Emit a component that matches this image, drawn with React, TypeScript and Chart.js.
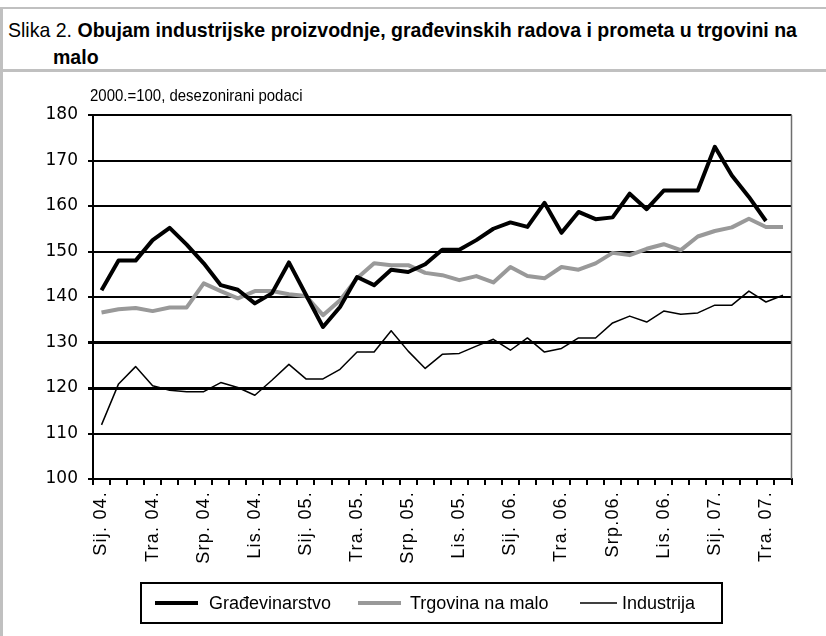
import React, { useEffect, useRef } from "react";
import { Chart, registerables } from "chart.js";

Chart.register(...registerables);

const months = ["Sij.", "Velj.", "Ožu.", "Tra.", "Svi.", "Lip.", "Srp.", "Kol.", "Ruj.", "Lis.", "Stu.", "Pro."];
const years = ["04.", "05.", "06.", "07."];
const categories: string[] = [];
for (let y = 0; y < years.length; y++) {
  for (let m = 0; m < 12; m++) {
    if (categories.length < 41) categories.push(months[m] + " " + years[y]);
  }
}
// visible tick labels (every third month)
const tickLabels: Record<number, string> = {
  0: "Sij. 04.", 3: "Tra. 04.", 6: "Srp. 04.", 9: "Lis. 04.",
  12: "Sij. 05.", 15: "Tra. 05.", 18: "Srp. 05.", 21: "Lis. 05.",
  24: "Sij. 06.", 27: "Tra. 06.", 30: "Srp.06.", 33: "Lis. 06.",
  36: "Sij. 07.", 39: "Tra. 07.",
};

const gradevinarstvo: (number | null)[] = [
  141.5, 148, 148, 152.5, 155.2, 151.5, 147.4, 142.6, 141.6, 138.6, 140.8, 147.6,
  140.5, 133.4, 137.8, 144.4, 142.6, 146, 145.5, 147.2, 150.4, 150.4, 152.5, 155,
  156.4, 155.4, 160.7, 154.1, 158.7, 157.1, 157.5, 162.7, 159.3, 163.4, 163.4, 163.4,
  173, 166.7, 162, 156.7, null,
];
const trgovina: number[] = [
  136.6, 137.3, 137.6, 136.9, 137.7, 137.7, 143, 141.3, 139.7, 141.3, 141.3, 140.6,
  140.2, 136, 139.3, 144.1, 147.4, 147, 147, 145.3, 144.8, 143.7, 144.6, 143.2,
  146.6, 144.6, 144.1, 146.6, 146, 147.4, 149.7, 149.2, 150.6, 151.6, 150.3, 153.3,
  154.5, 155.3, 157.2, 155.4, 155.4,
];
const industrija: number[] = [
  111.9, 120.9, 124.7, 120.5, 119.5, 119.2, 119.2, 121.2, 120.1, 118.4, 121.7, 125.2,
  122, 122, 124.1, 127.9, 127.9, 132.6, 128.1, 124.3, 127.4, 127.6, 129.2, 130.7,
  128.3, 131, 127.9, 128.7, 131, 131, 134.3, 135.8, 134.5, 136.9, 136.2, 136.5,
  138.2, 138.2, 141.3, 138.9, 140.4,
];

const yTicks = [100, 110, 120, 130, 140, 150, 160, 170, 180];
const subtitle = "2000.=100, desezonirani podaci";

const GREY = "#999999";

const framePlugin = {
  id: "framePlugin",
  beforeDraw(chart: any) {
    const xs = chart.scales.x;
    if (xs && !xs.__wrapped) {
      const orig = xs.drawLabels.bind(xs);
      xs.drawLabels = (area: any) => {
        const c = chart.ctx;
        const prev = c.letterSpacing;
        c.letterSpacing = "1.2px";
        orig(area);
        c.letterSpacing = prev || "0px";
      };
      xs.__wrapped = true;
    }
  },
  afterDraw(chart: any) {
    const { ctx, chartArea } = chart;
    ctx.save();
    // right border of plot area
    ctx.strokeStyle = "#6e6e6e";
    ctx.lineWidth = 1.5;
    ctx.beginPath();
    ctx.moveTo(chartArea.right, chartArea.top);
    ctx.lineTo(chartArea.right, chartArea.bottom);
    ctx.stroke();
    // subtitle
    ctx.save();
    ctx.translate(87, 24);
    ctx.scale(0.88, 1);
    ctx.fillStyle = "#000";
    ctx.font = "17px 'Liberation Sans', Arial, sans-serif";
    ctx.textAlign = "left";
    ctx.textBaseline = "middle";
    ctx.fillText(subtitle, 0, 0);
    ctx.restore();
    // legend
    const bx = 138, by = 511, bw = 581, bh = 40;
    ctx.lineWidth = 2;
    ctx.strokeStyle = "#000";
    ctx.strokeRect(bx, by, bw, bh);
    const items = [
      { x: 152, len: 43, tx: 206 },
      { x: 355, len: 43, tx: 407 },
      { x: 577, len: 37, tx: 619 },
    ];
    ctx.font = "18px 'Liberation Sans', Arial, sans-serif";
    ctx.textAlign = "left";
    ctx.textBaseline = "middle";
    chart.data.datasets.forEach((ds: any, i: number) => {
      const it = items[i];
      const cy = by + bh / 2;
      ctx.strokeStyle = ds.borderColor;
      ctx.lineWidth = ds.borderWidth;
      ctx.beginPath();
      ctx.moveTo(it.x, cy);
      ctx.lineTo(it.x + it.len, cy);
      ctx.stroke();
      ctx.fillStyle = "#000";
      ctx.fillText(ds.label, it.tx, cy + 1);
    });
    ctx.restore();
  },
};

function ChartView() {
  const ref = useRef<HTMLCanvasElement | null>(null);
  useEffect(() => {
    if (!ref.current) return;
    const chart = new Chart(ref.current, {
      type: "line",
      data: {
        labels: categories,
        datasets: [
          { label: "Građevinarstvo", data: gradevinarstvo, borderColor: "#000000", borderWidth: 4, pointRadius: 0, tension: 0, borderJoinStyle: "round", spanGaps: false },
          { label: "Trgovina na malo", data: trgovina, borderColor: GREY, borderWidth: 4, pointRadius: 0, tension: 0, borderJoinStyle: "round" },
          { label: "Industrija", data: industrija, borderColor: "#000000", borderWidth: 1.5, pointRadius: 0, tension: 0, borderJoinStyle: "round" },
        ],
      },
      options: {
        animation: false,
        responsive: false,
        maintainAspectRatio: false,
        layout: { padding: { top: 43, right: 34.5, left: 0, bottom: 0 } },
        plugins: { legend: { display: false }, tooltip: { enabled: false }, title: { display: false } },
        scales: {
          x: {
            offset: true,
            grid: { display: true, offset: true, drawOnChartArea: false, drawTicks: true, tickLength: 6, color: "#000", lineWidth: 2 },
            border: { display: true, color: "#000", width: 2 },
            ticks: {
              autoSkip: false,
              maxRotation: 90,
              minRotation: 90,
              padding: 6,
              color: "#000",
              font: { family: "'Liberation Sans', Arial, sans-serif", size: 18 },
              callback: (_v: any, idx: number) => tickLabels[idx] ?? "",
            },
            afterFit: (s: any) => { s.height = 157; },
          },
          y: {
            min: 100,
            max: 180,
            afterBuildTicks: (s: any) => { s.ticks = yTicks.map((v) => ({ value: v })); },
            grid: {
              color: "#000",
              lineWidth: (c: any) => (c.tick && (c.tick.value === 120 || c.tick.value === 130) ? 3 : 2),
              drawTicks: true,
              tickLength: 5,
            },
            border: { display: true, color: "#000", width: 2 },
            ticks: {
              padding: 10,
              color: "#000",
              font: { family: "'DejaVu Sans', sans-serif", size: 17 },
            },
            afterFit: (s: any) => { s.width = 90; },
          },
        },
      },
      plugins: [framePlugin],
    });
    return () => chart.destroy();
  }, []);
  return <canvas ref={ref} width={823} height={564} style={{ position: "absolute", left: 3, top: 72, width: 823, height: 564 }} />;
}

export default function App() {
  const titleFont = "'Liberation Sans', Arial, sans-serif";
  const lineStyle: React.CSSProperties = {
    position: "absolute", whiteSpace: "nowrap", fontFamily: titleFont, fontSize: 21,
    lineHeight: "24px", color: "#000", transform: "scaleX(0.93)", transformOrigin: "0 50%",
  };
  return (
    <div style={{ position: "fixed", left: 0, top: 0, width: 826, height: 636, background: "#fff", overflow: "hidden" }}>
      <div style={{ position: "absolute", left: 0, top: 7, width: 826, height: 2, background: "#c0c0c0" }} />
      <div style={{ position: "absolute", left: 0, top: 69, width: 826, height: 3, background: "#c0c0c0" }} />
      <div style={{ position: "absolute", left: 0, top: 7, width: 3, height: 629, background: "#c0c0c0" }} />
      <div style={{ ...lineStyle, left: 8, top: 18 }}>
        Slika 2. <b>Obujam industrijske proizvodnje, građevinskih radova i prometa u trgovini na</b>
      </div>
      <div style={{ ...lineStyle, left: 53, top: 45 }}>
        <b>malo</b>
      </div>
      <ChartView />
    </div>
  );
}
